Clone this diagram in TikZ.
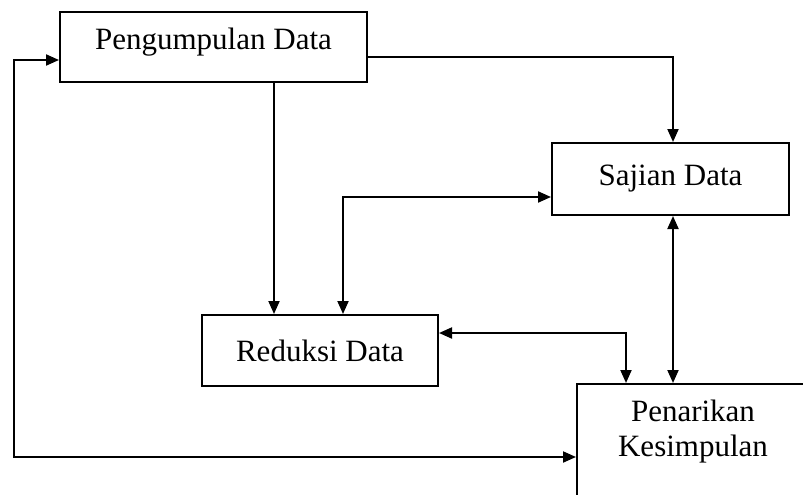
\documentclass[tikz,border=0pt]{standalone}
\usepackage{fontspec}
\setmainfont{Liberation Serif}
\usetikzlibrary{arrows.meta}
\begin{document}
\begin{tikzpicture}[x=1pt,y=-1pt,
  box/.style={draw, line width=2pt, inner sep=0pt, font=\fontsize{31}{35}\selectfont, align=center},
  lbl/.style={inner sep=0pt, font=\fontsize{31}{35}\selectfont, align=center},
  conn/.style={line width=2pt, arrows={-Triangle[length=13pt,width=11pt]}},
  conn2/.style={line width=2pt, arrows={Triangle[length=13pt,width=11pt]-Triangle[length=13pt,width=11pt]}}]
\path[use as bounding box, clip] (0,0) rectangle (803,495);
\fill[white] (0,0) rectangle (803,495);
% boxes
\node[box, minimum width=307pt, minimum height=70pt] (pd) at (213.5,47) {};
\node[lbl] (pdtext) at (213.5,42) {Pengumpulan Data};
\node[box, minimum width=237pt, minimum height=72pt] (sd) at (670.5,179) {Sajian Data};
\node[box, minimum width=236pt, minimum height=71pt] (rd) at (320,350.5) {Reduksi Data};
\node[box, minimum width=243pt, minimum height=126pt] (pk) at (698.5,447) {};
\node[lbl] (pktext) at (693,432) {Penarikan\\Kesimpulan};
% helper coordinates
\coordinate (lt) at (14,60);
\coordinate (lb) at (14,457);
\coordinate (a1) at (274,0);
\coordinate (a2) at (673,57);
\coordinate (a3) at (343,197);
\coordinate (a4) at (626,333);
% connectors
\draw[conn2] (pd.west |- lt) -- (lt) -- (lb) -- (pk.west |- lb);
\draw[conn] (pd.south -| a1) -- (rd.north -| a1);
\draw[conn] (pd.east |- a2) -| (sd.north -| a2);
\draw[conn2] (sd.west |- a3) -| (rd.north -| a3);
\draw[conn2] (rd.east |- a4) -| (pk.north -| a4);
\draw[conn2] (sd.south -| a2) -- (pk.north -| a2);
\end{tikzpicture}
\end{document}
